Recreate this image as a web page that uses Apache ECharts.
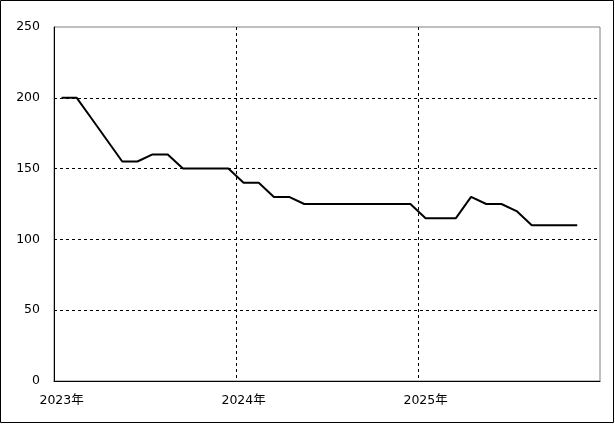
<!DOCTYPE html>
<html>
<head>
<meta charset="utf-8">
<script src="https://cdn.jsdelivr.net/npm/echarts@6/dist/echarts.min.js"></script>
<style>html,body{margin:0;padding:0;background:#fff}#c{width:615px;height:424px}</style>
</head>
<body>
<div id="c"></div>
<script>
const months = [];
for (let y = 2023; y <= 2025; y++) for (let m = 1; m <= 12; m++) months.push(y + '-' + String(m).padStart(2, '0'));
const yearLabels = ['2023年', '2024年', '2025年'];
const values = [200,200,185,170,155,155,160,160,150,150,150,150,
                140,140,130,130,125,125,125,125,125,125,125,125,
                115,115,115,130,125,125,120,110,110,110,110];
const yTicks = [0, 50, 100, 150, 200, 250];

const FONT = 'DejaVu Sans, Noto Sans CJK JP';
const chart = echarts.init(document.getElementById('c'), null, {renderer: 'canvas'});
chart.setOption({
  animation: false,
  backgroundColor: '#fff',
  grid: {left: 54, right: 15, top: 27, bottom: 43, show: true, borderColor: '#808080', borderWidth: 1, backgroundColor: 'transparent'},
  graphic: [{type: 'rect', shape: {x: 0.5, y: 0.5, width: 613, height: 422}, style: {fill: 'none', stroke: '#000', lineWidth: 1}, silent: true}],
  xAxis: {
    type: 'category', data: months, boundaryGap: true,
    axisLine: {lineStyle: {color: '#000', width: 1}},
    axisTick: {show: false},
    axisLabel: {interval: 11, color: '#000', fontSize: 12.5, fontFamily: FONT, margin: 13,
      formatter: (v, i) => (i % 12 === 0 ? yearLabels[i / 12] : '')},
    splitLine: {show: true, interval: 11, showMinLine: false, showMaxLine: false, lineStyle: {color: '#000', type: [3, 3], width: 1}}
  },
  yAxis: {
    type: 'value', min: yTicks[0], max: yTicks[yTicks.length - 1], interval: 50,
    axisLine: {show: true, lineStyle: {color: '#000', width: 1}},
    axisTick: {show: false},
    axisLabel: {color: '#000', fontSize: 12.5, fontFamily: FONT, margin: 14},
    splitLine: {show: true, showMinLine: false, showMaxLine: false, lineStyle: {color: '#000', type: [3, 3], width: 1}}
  },
  series: [{type: 'line', data: values, showSymbol: false, symbol: 'none', lineStyle: {color: '#000', width: 2}}]
});
</script>
</body>
</html>
